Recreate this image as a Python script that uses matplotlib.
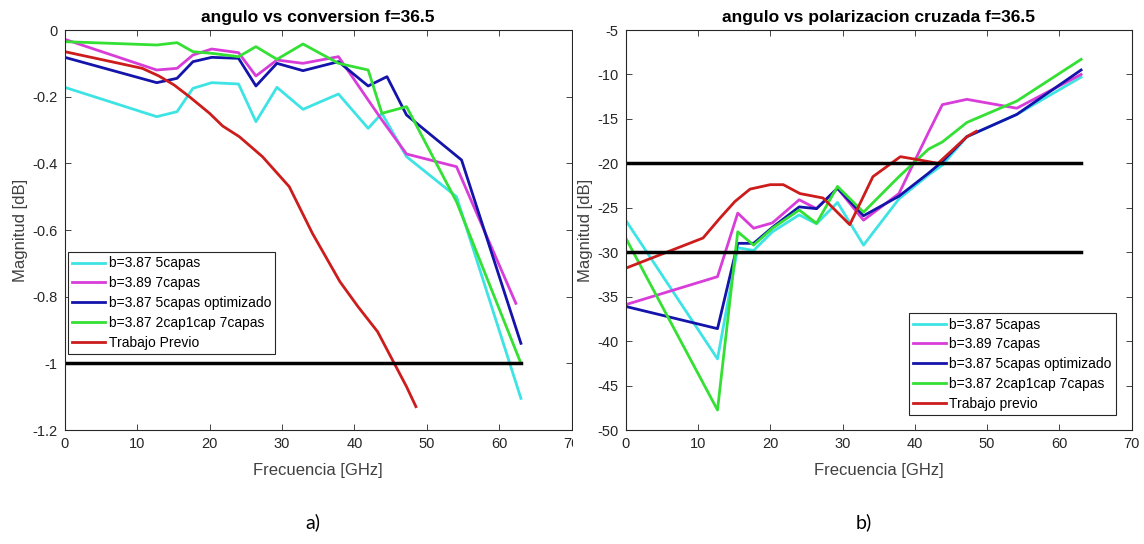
import matplotlib
matplotlib.use('Agg')
import matplotlib.pyplot as plt
from matplotlib.patches import Rectangle

plt.rcParams['font.family'] = ['Liberation Sans', 'DejaVu Sans']
plt.rcParams['axes.unicode_minus'] = False

# frequency grid shared by the simulated series
freq = [0, 12.7, 15.5, 17.7, 20.3, 24, 26.4, 29.3, 32.9, 37.8, 41.9, 43.8, 47.2, 54.1, 63]
freq_mag = [0, 12.7, 15.5, 17.7, 20.3, 24, 26.4, 29.3, 32.9, 37.8, 41.9, 43.8, 47.2, 54.1, 62.3]
freq_blue = [0, 12.7, 15.5, 17.7, 20.3, 24, 26.4, 29.3, 32.9, 37.8, 41.9, 44.5, 47.2, 54.8, 63]
freq_prev = [0, 10.7, 13, 15.1, 17.2, 20, 21.8, 24.1, 27.3, 31, 34.2, 38, 40.5, 43.2, 47.2, 48.5]

labels_a = ['b=3.87 5capas', 'b=3.89 7capas', 'b=3.87 5capas optimizado',
            'b=3.87 2cap1cap 7capas', 'Trabajo Previo']
labels_b = ['b=3.87 5capas', 'b=3.89 7capas', 'b=3.87 5capas optimizado',
            'b=3.87 2cap1cap 7capas', 'Trabajo previo']

# a) conversion [dB]
conv_5capas = [-0.172, -0.26, -0.245, -0.175, -0.158, -0.162, -0.275, -0.172, -0.238,
               -0.192, -0.295, -0.25, -0.38, -0.5, -1.105]
conv_7capas = [-0.028, -0.12, -0.115, -0.075, -0.057, -0.068, -0.138, -0.09, -0.1,
               -0.08, -0.21, -0.27, -0.372, -0.41, -0.82]
conv_opt = [-0.082, -0.158, -0.145, -0.095, -0.082, -0.085, -0.168, -0.1, -0.122,
            -0.095, -0.168, -0.14, -0.255, -0.39, -0.94]
conv_2cap = [-0.035, -0.045, -0.038, -0.065, -0.07, -0.08, -0.05, -0.088, -0.042,
             -0.1, -0.12, -0.25, -0.23, -0.515, -1.0]
conv_prev = [-0.065, -0.115, -0.138, -0.165, -0.2, -0.25, -0.288, -0.32, -0.38, -0.47,
             -0.61, -0.755, -0.83, -0.905, -1.07, -1.13]

# b) polarizacion cruzada [dB]
xpol_5capas = [-26.4, -42.0, -29.5, -29.8, -27.7, -25.8, -26.8, -24.4, -29.2, -24.0,
               -21.3, -20.2, -17.0, -14.5, -10.3]
xpol_7capas = [-35.9, -32.75, -25.6, -27.3, -26.7, -24.1, -25.1, -22.8, -26.4, -23.4,
               -16.5, -13.4, -12.8, -13.8, -10.0]
xpol_opt = [-36.1, -38.6, -29.0, -29.0, -27.2, -24.9, -25.1, -22.8, -25.9, -23.7,
            -21.1, -19.8, -17.0, -14.5, -9.5]
xpol_2cap = [-28.4, -47.75, -27.7, -29.2, -27.3, -25.25, -26.75, -22.6, -25.5, -21.5,
             -18.4, -17.6, -15.4, -13.0, -8.3]
xpol_prev = [-31.8, -28.4, -26.2, -24.3, -22.9, -22.4, -22.4, -23.4, -23.9, -26.9,
             -21.5, -19.25, -19.6, -20.0, -17.0, -16.4]

colors = ['#3ee3e3', '#d93dd9', '#1414aa', '#33e033', '#cc1c1c']
gray = '#262626'


def style_axes(ax, yticks, ylim):
    ax.set_xlim(0, 70)
    ax.set_ylim(*ylim)
    ax.set_xticks(range(0, 71, 10))
    ax.set_yticks(yticks)
    ax.set_yticklabels(['%g' % t for t in yticks])
    ax.tick_params(direction='in', top=True, right=True, length=4, width=0.6,
                   labelsize=10.5, colors=gray, pad=5)
    for s in ax.spines.values():
        s.set_linewidth(0.8)
        s.set_color(gray)
    ax.set_xlabel('Frecuencia [GHz]', fontsize=12, color='#404040', labelpad=9)
    ax.set_ylabel('Magnitud [dB]', fontsize=12, color='#404040', labelpad=3)


def add_legend(ax, labels, loc, anchor):
    leg = ax.legend(labels, loc=loc, bbox_to_anchor=anchor, borderaxespad=0,
                    fontsize=10, handlelength=2.4, handletextpad=0.25, labelspacing=0.42,
                    borderpad=0.3, fancybox=False, framealpha=1)
    leg.get_frame().set_edgecolor(gray)
    leg.get_frame().set_linewidth(0.8)


fig = plt.figure(figsize=(11.44, 5.44), dpi=100)
ax1 = fig.add_axes([64.8 / 1144, 114 / 544, 506.8 / 1144, 400 / 544], zorder=0)
ax2 = fig.add_axes([625.7 / 1144, 114 / 544, 506 / 1144, 400 / 544], zorder=2)

# left panel
xs_a = [freq, freq_mag, freq_blue, freq, freq_prev]
ys_a = [conv_5capas, conv_7capas, conv_opt, conv_2cap, conv_prev]
for x, y, c in zip(xs_a, ys_a, colors):
    ax1.plot(x, y, color=c, lw=2)
ax1.plot([0, 63], [-1, -1], color='black', lw=2.5)
style_axes(ax1, [-1.2, -1, -0.8, -0.6, -0.4, -0.2, 0], (-1.2, 0))
ax1.set_title('angulo vs conversion f=36.5', fontsize=12.5, fontweight='bold', pad=6)
add_legend(ax1, labels_a, 'lower left', (0.006, 0.19))

# right figure covers the edge of the left one
fig.add_artist(Rectangle((573 / 1144, 0), 1, 1, transform=fig.transFigure,
                         facecolor='white', edgecolor='none', zorder=1))

# right panel
xs_b = [freq, freq, freq, freq, freq_prev]
ys_b = [xpol_5capas, xpol_7capas, xpol_opt, xpol_2cap, xpol_prev]
for x, y, c in zip(xs_b, ys_b, colors):
    ax2.plot(x, y, color=c, lw=2)
ax2.plot([0, 63], [-20, -20], color='black', lw=2.5)
ax2.plot([0, 63], [-30, -30], color='black', lw=2.5)
style_axes(ax2, list(range(-50, -4, 5)), (-50, -5))
ax2.set_title('angulo vs polarizacion cruzada f=36.5', fontsize=12.5, fontweight='bold', pad=6)
add_legend(ax2, labels_b, 'lower right', (0.969, 0.0375))

fig.text(313 / 1144, 1 - 522 / 544, 'a)', fontsize=14, family='Lato', ha='center', va='center')
fig.text(864 / 1144, 1 - 522 / 544, 'b)', fontsize=14, family='Lato', ha='center', va='center')

fig.savefig('out.png', dpi=100)
